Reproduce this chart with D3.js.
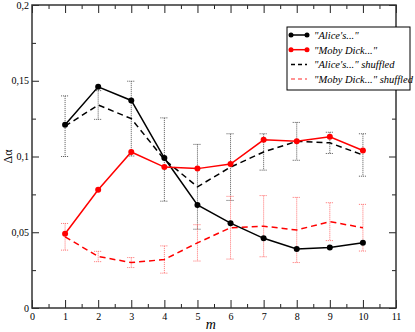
<!DOCTYPE html>
<html>
<head>
<meta charset="utf-8">
<script src="https://cdn.jsdelivr.net/npm/d3@7"></script>
<style>
  body { margin: 0; background: #fff; }
  svg { display: block; }
  svg text { font-family: "Liberation Serif", "DejaVu Serif", Times, serif !important; }
</style>
</head>
<body>
<svg id="chart"></svg>
<script>
const mValues = [1, 2, 3, 4, 5, 6, 7, 8, 9, 10];
const alice = [0.121, 0.146, 0.137, 0.099, 0.068, 0.056, 0.046, 0.039, 0.040, 0.043];
const moby = [0.049, 0.078, 0.103, 0.093, 0.092, 0.095, 0.111, 0.110, 0.113, 0.104];
const aliceShuf = [0.120, 0.134, 0.125, 0.098, 0.080, 0.093, 0.103, 0.110, 0.109, 0.101];
const aliceErr = [0.020, 0.0095, 0.0247, 0.0275, 0.028, 0.022, 0.012, 0.0125, 0.007, 0.014];
const mobyShuf = [0.047, 0.034, 0.030, 0.032, 0.043, 0.053, 0.054, 0.0515, 0.057, 0.053];
const mobyErr = [0.0088, 0.0034, 0.0033, 0.009, 0.012, 0.0207, 0.0202, 0.0215, 0.0125, 0.0154];
const yTickLabels = ["0", "0,05", "0,1", "0,15", "0,2"];
const legendLabels = ["\"Alice's...\"", "\"Moby Dick...\"", "\"Alice's...\" shuffled", "\"Moby Dick...\" shuffled"];

const margin = { top: 5, right: 19, bottom: 24, left: 32 },
  width = 415 - margin.left - margin.right,
  height = 332 - margin.top - margin.bottom;

const svg = d3.select("#chart")
  .attr("width", 415)
  .attr("height", 332)
  .append("g")
  .attr("transform", `translate(${margin.left},${margin.top})`);

const x = d3.scaleLinear().domain([0, 11]).range([0, width]);
const y = d3.scaleLinear().domain([0, 0.2]).range([height, 0]);

// ticks point inward on all four sides
const xMajor = d3.range(0, 12, 1), xMinor = d3.range(0.5, 11, 1);
const yMajor = d3.range(0, 0.201, 0.05), yMinor = d3.range(0.025, 0.2, 0.05);

svg.append("g").attr("transform", `translate(0,${height})`)
  .call(d3.axisBottom(x).tickValues(xMajor).tickSize(-8).tickPadding(5).tickFormat(d3.format("d")))
  .call(g => g.select(".domain").remove());
svg.append("g").attr("transform", `translate(0,${height})`)
  .call(d3.axisBottom(x).tickValues(xMinor).tickSize(-4).tickFormat(""))
  .call(g => g.select(".domain").remove());
svg.append("g")
  .call(d3.axisTop(x).tickValues(xMajor).tickSize(-8).tickFormat(""))
  .call(g => g.select(".domain").remove());
svg.append("g")
  .call(d3.axisTop(x).tickValues(xMinor).tickSize(-4).tickFormat(""))
  .call(g => g.select(".domain").remove());

svg.append("g")
  .call(d3.axisLeft(y).tickValues(yMajor).tickSize(-7).tickPadding(3).tickFormat((d, i) => yTickLabels[i]))
  .call(g => g.select(".domain").remove());
svg.append("g")
  .call(d3.axisLeft(y).tickValues(yMinor).tickSize(-4).tickFormat(""))
  .call(g => g.select(".domain").remove());
svg.append("g").attr("transform", `translate(${width},0)`)
  .call(d3.axisRight(y).tickValues(yMajor).tickSize(-7).tickFormat(""))
  .call(g => g.select(".domain").remove());
svg.append("g").attr("transform", `translate(${width},0)`)
  .call(d3.axisRight(y).tickValues(yMinor).tickSize(-4).tickFormat(""))
  .call(g => g.select(".domain").remove());

svg.selectAll(".tick text")
  .attr("font-size", 10)
  .attr("fill", "#000");
svg.selectAll(".tick line").attr("stroke", "#222");

// frame
svg.append("rect")
  .attr("width", width).attr("height", height)
  .attr("fill", "none").attr("stroke", "#333").attr("stroke-width", 1.5);

// error bars (dotted, with caps)
function errorBars(vals, errs, color) {
  const g = svg.append("g").attr("stroke", color).attr("stroke-width", 1)
    .attr("stroke-dasharray", "1,1").attr("fill", "none");
  mValues.forEach((m, i) => {
    const cx = x(m), top = y(vals[i] + errs[i]), bot = y(vals[i] - errs[i]);
    g.append("line").attr("x1", cx).attr("x2", cx).attr("y1", top).attr("y2", bot);
    g.append("line").attr("x1", cx - 4).attr("x2", cx + 4).attr("y1", top).attr("y2", top);
    g.append("line").attr("x1", cx - 4).attr("x2", cx + 4).attr("y1", bot).attr("y2", bot);
  });
}
errorBars(aliceShuf, aliceErr, "#555");
errorBars(mobyShuf, mobyErr, "#ff7070");

const line = d3.line().x((d, i) => x(mValues[i])).y(d => y(d));

svg.append("path").datum(aliceShuf).attr("d", line)
  .attr("fill", "none").attr("stroke", "#000").attr("stroke-width", 1.5).attr("stroke-dasharray", "6,4");
svg.append("path").datum(mobyShuf).attr("d", line)
  .attr("fill", "none").attr("stroke", "#ff0000").attr("stroke-width", 1.5).attr("stroke-dasharray", "6,4");

[[alice, "#000"], [moby, "#ff0000"]].forEach(([vals, color]) => {
  svg.append("path").datum(vals).attr("d", line)
    .attr("fill", "none").attr("stroke", color).attr("stroke-width", 1.5);
  svg.selectAll(null).data(vals).enter().append("circle")
    .attr("cx", (d, i) => x(mValues[i])).attr("cy", d => y(d))
    .attr("r", 3).attr("fill", color);
});

// axis titles
svg.append("text")
  .attr("x", x(5.4)).attr("y", height + 21)
  .attr("text-anchor", "middle")
  .attr("font-size", 14).attr("font-style", "italic")
  .text("m");
svg.append("text")
  .attr("transform", `translate(${-20},${y(0.1)}) rotate(-90)`)
  .attr("text-anchor", "middle")
  .attr("font-size", 12)
  .text("Δα");

// legend
const legend = svg.append("g").attr("transform", `translate(${255},${22})`);
legend.append("rect")
  .attr("width", 123).attr("height", 63)
  .attr("fill", "#fff").attr("stroke", "#000").attr("stroke-width", 1);
const legendStyles = [
  { color: "#000", dash: null, dot: true },
  { color: "#ff0000", dash: null, dot: true },
  { color: "#000", dash: "4,3", dot: false },
  { color: "#ff7070", dash: "4,3", dot: false }
];
legendLabels.forEach((label, i) => {
  const ly = 8 + i * 14.7;
  const s = legendStyles[i];
  legend.append("line")
    .attr("x1", 4).attr("x2", 20).attr("y1", ly).attr("y2", ly)
    .attr("stroke", s.color).attr("stroke-width", 1.5)
    .attr("stroke-dasharray", s.dash);
  if (s.dot) {
    [4, 20].forEach(cx => legend.append("circle")
      .attr("cx", cx).attr("cy", ly).attr("r", 2.5).attr("fill", s.color));
  }
  legend.append("text")
    .attr("x", 27).attr("y", ly + 4)
    .attr("font-size", 10.5).attr("font-style", "italic")
    .text(label);
});
</script>
</body>
</html>
